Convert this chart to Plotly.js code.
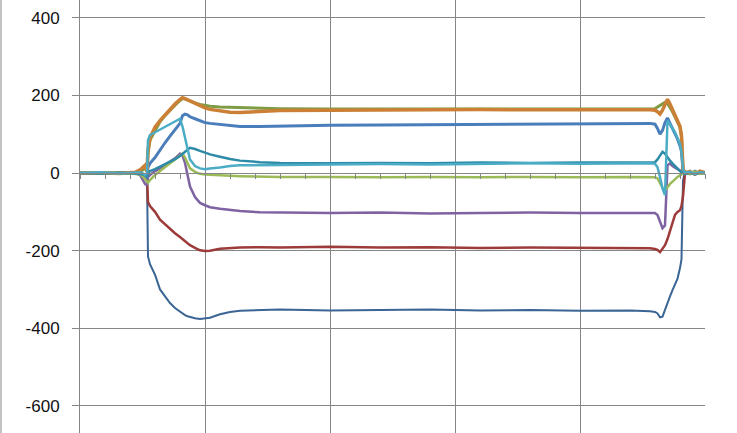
<!DOCTYPE html>
<html>
<head>
<meta charset="utf-8">
<script src="https://cdn.plot.ly/plotly-3.0.1.min.js"></script>
<style>html,body{margin:0;padding:0;background:#fff;}#chart{width:737px;height:433px;}</style>
</head>
<body>
<div id="chart"></div>
<script>
// time axis (shared by all series)
var time = [0,8,16,22,24,25,26,26.8,27.2,28,30,32,34,36,38,40,41,42,43,44,46,48,50,52,56,60,64,72,80,100,120,140,160,180,200,220,228,230,231,232,233,234,235,236,237,238,239,240,240.6,241.2,242,244,246,248,250];

var darkBlue = [0,2,-1,0,-3,-5,-8,-15,-215,-235,-262,-300,-318,-335,-348,-358,-362,-366,-369,-371,-374,-376,-375,-373,-364,-358,-355,-353,-352,-354,-353,-352,-354,-353,-355,-354,-356,-358,-362,-372,-370,-352,-332,-318,-302,-288,-272,-245,-222,-20,5,-3,6,-2,2];
var darkRed = [0,-1,1,0,-2,-4,-6,-10,-75,-85,-100,-120,-132,-145,-155,-165,-170,-175,-180,-186,-193,-199,-201,-200,-195,-193,-192,-191,-192,-190,-192,-191,-193,-192,-193,-193,-194,-196,-198,-204,-196,-186,-170,-150,-130,-108,-100,-96,-85,-60,0,3,-2,4,0];
var purple = [0,1,-1,0,-5,-15,-28,-32,-10,-5,5,12,20,28,38,50,45,26,-5,-35,-62,-77,-83,-88,-92,-95,-98,-101,-102,-103,-102,-104,-103,-102,-103,-102,-102,-103,-108,-125,-142,-135,20,25,18,14,10,8,5,2,-3,2,-4,3,0];
var olive = [0,-1,1,0,3,8,12,5,50,85,110,132,148,162,175,187,192,191,188,185,181,177,174,172,170,169,168,167,166,165,165,164,165,164,165,164,165,166,170,175,178,182,180,170,158,145,132,118,95,10,0,-2,3,-1,2];
var blue = [0,1,-1,0,-3,-5,-8,-10,15,25,40,60,78,95,112,128,148,152,150,145,140,134,130,128,125,122,120,120,121,123,124,125,126,126,127,127,128,126,115,100,110,130,142,128,115,100,88,70,55,8,0,2,-3,4,-1];
var orange = [0,1,-1,2,8,15,20,5,60,90,118,135,150,165,178,190,194,192,189,186,180,173,168,164,160,157,156,159,161,162,163,162,164,163,164,163,163,162,158,152,162,178,190,178,162,145,135,120,95,10,0,4,-3,5,1];
var lightGreen = [0,1,0,-1,-3,-8,-15,-22,-25,-18,-5,5,15,25,35,45,50,40,25,12,3,-2,-4,-5,-6,-7,-8,-9,-10,-10,-11,-10,-11,-10,-11,-10,-10,-11,-14,-25,-38,-45,-35,-28,-22,-15,-10,-6,-3,0,2,-1,3,-2,0];
var teal = [0,-1,1,0,-2,-4,-6,-8,0,5,10,16,22,28,36,44,50,55,60,65,62,57,52,48,42,36,32,28,26,25,26,25,27,26,27,26,27,28,35,45,55,50,40,32,25,18,10,5,2,0,-2,2,-3,1,0];
var aqua = [0,2,-1,1,2,0,-5,0,85,98,105,112,120,128,135,140,120,90,60,35,18,12,10,12,14,18,20,20,21,22,23,22,24,25,24,26,25,24,15,-10,-40,-57,135,125,115,105,90,75,55,10,0,3,-2,2,0];

var seriesNames = ['S1','S2','S3','S4','S5','S6','S7','S8','S9'];
var seriesData = [darkBlue, darkRed, purple, olive, blue, orange, lightGreen, teal, aqua];
var seriesColors = ['#3A6594','#9C3B3A','#7E62A1','#7F9B45','#4A7EBB','#CC8036','#9BBB59','#2E8BA8','#4BACC6'];
var seriesWidths = [2, 2.5, 2.5, 3, 3, 3.5, 2.5, 2.5, 2.5];

var yTickVals = [-600,-400,-200,0,200,400];
var yTickText = ['-600','-400','-200','0','200','400'];

var traces = seriesData.map(function(d, i){
  return {x: time, y: d, type:'scatter', mode:'lines', name: seriesNames[i],
          line:{color: seriesColors[i], width: seriesWidths[i]}, hoverinfo:'skip'};
});

var grid = '#868686';
var layout = {
  width:737, height:433,
  margin:{l:80, r:32, t:0, b:0, pad:0},
  paper_bgcolor:'#fff', plot_bgcolor:'#fff',
  showlegend:false,
  xaxis:{range:[0,250], tick0:0, dtick:50, showgrid:true, gridcolor:grid, gridwidth:1,
         showticklabels:false, zeroline:false, showline:true, linecolor:grid, linewidth:1,
         ticks:'outside', ticklen:5, tickcolor:grid,
         minor:{dtick:10, ticks:'outside', ticklen:5, tickcolor:grid, showgrid:false},
         anchor:'free', position:(0+670)/(446+670)},
  yaxis:{range:[-670,446], tickvals:yTickVals, ticktext:yTickText, showgrid:true, gridcolor:grid, gridwidth:1,
         zeroline:false, showline:true, linecolor:grid, linewidth:1,
         ticks:'outside', ticklen:7, tickcolor:grid, ticklabelstandoff:9,
         tickfont:{family:'Liberation Sans, Arial, sans-serif', size:17, color:'#111'}},
  shapes:[{type:'line', xref:'paper', yref:'paper', x0:-79/625, x1:-79/625, y0:0, y1:1,
           line:{color:grid, width:1}}]
};

Plotly.newPlot('chart', traces, layout, {displayModeBar:false, staticPlot:true});
</script>
</body>
</html>
